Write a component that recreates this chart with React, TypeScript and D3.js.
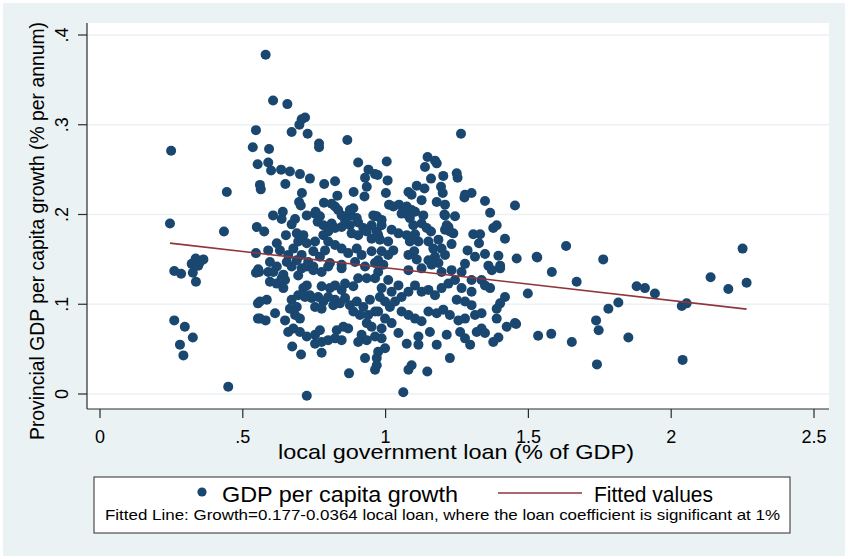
import * as React from 'react';
import * as d3 from 'd3';

type Pt = [number, number];

const xTicks = [0, 0.5, 1, 1.5, 2, 2.5];
const xTickLabels = ['0', '.5', '1', '1.5', '2', '2.5'];
const yTicks = [0, 0.1, 0.2, 0.3, 0.4];
const yTickLabels = ['0', '.1', '.2', '.3', '.4'];

// fitted line from the note under the legend
const fitIntercept = 0.177;
const fitSlope = -0.0364;

const xTitle = 'local government loan (% of GDP)';
const yTitle = 'Provincial GDP per capita growth (% per annum)';
const seriesLabel = 'GDP per capita growth';
const fitLabel = 'Fitted values';
const note = 'Fitted Line: Growth=0.177-0.0364 local loan, where the loan coefficient is significant at 1%';

// loan (% of GDP), growth
const leftPoints: Pt[] = [
  [0.245, 0.190], [0.249, 0.271], [0.260, 0.137], [0.284, 0.134], [0.325, 0.135], [0.336, 0.125],
  [0.335, 0.151], [0.362, 0.150], [0.321, 0.145], [0.344, 0.143], [0.350, 0.147], [0.260, 0.082],
  [0.297, 0.075], [0.325, 0.063], [0.280, 0.055], [0.292, 0.043], [0.449, 0.008], [0.444, 0.225],
  [0.434, 0.181],
];

const upperPoints: Pt[] = [
  [0.546, 0.294], [0.535, 0.275], [0.592, 0.273], [0.580, 0.378], [0.606, 0.327], [0.656, 0.323],
  [0.706, 0.306], [0.718, 0.308], [0.698, 0.300], [0.671, 0.292], [0.727, 0.290], [0.767, 0.279],
  [0.767, 0.275], [0.866, 0.283], [0.552, 0.256], [0.589, 0.258], [0.599, 0.249], [0.634, 0.250],
  [0.665, 0.248], [0.700, 0.245], [0.735, 0.240], [0.649, 0.234], [0.560, 0.233], [0.563, 0.228],
  [0.785, 0.234], [0.823, 0.237], [0.707, 0.224], [0.697, 0.214], [0.703, 0.210], [0.831, 0.221],
  [0.784, 0.213], [0.811, 0.212], [0.606, 0.199], [0.640, 0.203], [0.636, 0.195], [0.683, 0.195],
  [0.724, 0.199], [0.755, 0.203], [0.770, 0.198], [0.549, 0.186], [0.864, 0.198], [0.846, 0.186],
  [0.546, 0.157], [0.546, 0.135], [0.553, 0.101], [0.553, 0.084],
  [0.904, 0.258], [0.940, 0.250], [0.963, 0.245], [0.928, 0.241], [0.934, 0.231], [0.926, 0.220],
  [0.888, 0.225],
  [1.264, 0.290], [1.004, 0.259], [1.147, 0.264], [1.173, 0.260], [1.138, 0.253], [1.179, 0.257],
  [0.972, 0.244], [1.007, 0.238], [1.159, 0.240], [1.202, 0.243], [1.249, 0.246], [1.252, 0.241],
  [1.001, 0.224], [1.080, 0.225], [1.109, 0.232], [1.136, 0.229], [1.091, 0.222], [1.194, 0.231],
  [1.200, 0.224], [1.278, 0.222], [1.301, 0.224], [1.276, 0.219], [1.348, 0.215], [1.453, 0.210],
  [1.366, 0.202],
];

const midPoints: Pt[] = [
  [0.823, 0.209], [0.834, 0.205], [0.846, 0.199], [0.887, 0.207], [0.879, 0.199], [0.899, 0.196],
  [0.957, 0.199], [0.671, 0.189], [0.753, 0.201], [0.762, 0.192], [0.782, 0.188], [0.811, 0.190],
  [0.799, 0.181], [0.823, 0.185], [0.858, 0.194], [0.875, 0.188], [0.904, 0.191], [0.922, 0.185],
  [0.951, 0.188], [0.969, 0.181], [0.575, 0.181], [0.651, 0.177], [0.689, 0.179], [0.712, 0.177],
  [0.694, 0.170], [0.724, 0.168], [0.753, 0.170], [0.782, 0.177], [0.799, 0.170], [0.823, 0.166],
  [0.881, 0.179], [0.904, 0.177], [0.934, 0.181], [0.951, 0.173], [0.974, 0.177], [0.619, 0.168],
  [0.630, 0.160], [0.589, 0.160], [0.677, 0.162], [0.659, 0.155], [0.706, 0.155], [0.689, 0.149],
  [0.747, 0.159], [0.770, 0.153], [0.788, 0.160], [0.846, 0.162], [0.869, 0.157], [0.899, 0.162],
  [0.916, 0.155], [0.951, 0.159], [0.595, 0.147], [0.554, 0.139], [0.619, 0.142], [0.654, 0.147],
  [0.729, 0.147], [0.747, 0.142], [0.706, 0.140], [0.805, 0.146], [0.846, 0.144], [0.893, 0.147],
  [0.928, 0.142], [0.963, 0.146],
  [1.012, 0.211], [1.047, 0.211], [1.074, 0.209], [1.091, 0.205], [1.126, 0.216], [1.179, 0.214],
  [1.208, 0.211], [0.969, 0.198], [1.056, 0.201], [1.080, 0.199], [1.103, 0.203], [1.132, 0.199],
  [1.206, 0.200], [1.243, 0.198], [0.986, 0.188], [1.021, 0.183], [1.045, 0.179], [1.085, 0.196],
  [1.097, 0.188], [1.126, 0.190], [1.144, 0.185], [1.159, 0.181], [1.214, 0.188], [1.225, 0.181],
  [1.208, 0.183], [1.237, 0.179], [1.377, 0.185], [1.389, 0.188], [1.418, 0.173], [1.307, 0.178],
  [1.331, 0.178], [1.327, 0.168], [0.980, 0.172], [1.009, 0.170], [1.027, 0.160], [0.986, 0.159],
  [1.074, 0.177], [1.103, 0.178], [1.115, 0.170], [1.085, 0.170], [1.150, 0.170], [1.185, 0.172],
  [1.196, 0.162], [1.167, 0.162], [1.231, 0.167], [1.100, 0.159], [1.109, 0.150], [1.080, 0.155],
  [1.150, 0.149], [1.173, 0.153], [1.185, 0.146], [1.208, 0.155], [1.287, 0.160], [1.313, 0.153],
  [1.348, 0.156], [1.395, 0.154], [1.459, 0.151], [1.278, 0.145], [1.360, 0.143], [1.401, 0.143],
  [0.974, 0.149], [1.009, 0.155], [0.992, 0.144], [0.875, 0.205], [0.963, 0.198], [0.986, 0.194],
  [1.027, 0.209], [1.068, 0.205], [1.208, 0.199], [1.220, 0.186], [1.529, 0.153],
];

const lowerPoints: Pt[] = [
  [0.557, 0.136], [0.589, 0.136], [0.595, 0.125], [0.607, 0.136], [0.642, 0.133], [0.648, 0.127],
  [0.642, 0.118], [0.671, 0.142], [0.694, 0.132], [0.724, 0.142], [0.747, 0.138], [0.776, 0.136],
  [0.799, 0.142], [0.846, 0.140], [0.712, 0.118], [0.724, 0.121], [0.735, 0.110], [0.718, 0.108],
  [0.694, 0.110], [0.776, 0.120], [0.805, 0.118], [0.823, 0.121], [0.846, 0.116], [0.858, 0.123],
  [0.887, 0.120], [0.904, 0.129], [0.934, 0.129], [0.963, 0.129], [0.560, 0.103], [0.584, 0.105],
  [0.671, 0.105], [0.689, 0.097], [0.665, 0.095], [0.683, 0.088], [0.700, 0.084], [0.741, 0.107],
  [0.764, 0.108], [0.782, 0.103], [0.753, 0.097], [0.776, 0.095], [0.799, 0.108], [0.823, 0.105],
  [0.817, 0.099], [0.840, 0.101], [0.858, 0.107], [0.875, 0.099], [0.899, 0.103], [0.922, 0.097],
  [0.945, 0.105], [0.963, 0.092], [0.887, 0.092], [0.910, 0.088], [0.939, 0.088], [0.934, 0.079],
  [0.951, 0.075], [0.613, 0.090], [0.560, 0.084], [0.580, 0.082], [0.648, 0.082], [0.659, 0.069],
  [0.677, 0.073], [0.700, 0.069], [0.724, 0.064], [0.753, 0.066], [0.770, 0.071], [0.753, 0.056],
  [0.776, 0.058], [0.799, 0.060], [0.823, 0.062], [0.846, 0.060], [0.829, 0.071], [0.852, 0.075],
  [0.869, 0.073], [0.916, 0.066], [0.904, 0.058], [0.934, 0.060], [0.963, 0.064], [0.673, 0.053],
  [0.704, 0.044], [0.776, 0.046], [0.928, 0.040], [0.963, 0.027], [0.969, 0.040], [0.872, 0.023],
  [0.724, -0.002], [0.619, 0.123], [0.636, 0.129],
  [1.080, 0.138], [1.126, 0.140], [1.161, 0.144], [1.196, 0.136], [1.231, 0.138], [1.266, 0.136],
  [1.301, 0.127], [1.336, 0.127], [1.372, 0.138], [1.401, 0.140], [1.366, 0.118], [1.348, 0.121],
  [0.974, 0.136], [1.009, 0.127], [0.986, 0.118], [1.021, 0.114], [1.045, 0.121], [1.056, 0.108],
  [1.080, 0.114], [1.103, 0.121], [1.126, 0.114], [1.150, 0.116], [1.173, 0.110], [1.196, 0.118],
  [1.220, 0.123], [1.243, 0.127], [1.266, 0.118], [1.301, 0.114], [0.980, 0.108], [0.998, 0.103],
  [1.015, 0.097], [1.033, 0.103], [1.249, 0.105], [1.278, 0.103], [1.301, 0.099], [1.418, 0.108],
  [1.401, 0.101], [1.389, 0.095], [0.974, 0.092], [0.998, 0.084], [1.021, 0.079], [0.986, 0.073],
  [1.056, 0.092], [1.080, 0.088], [1.103, 0.084], [1.126, 0.081], [1.150, 0.092], [1.179, 0.090],
  [1.202, 0.094], [1.225, 0.088], [1.255, 0.082], [1.278, 0.084], [1.313, 0.088], [1.336, 0.090],
  [1.389, 0.084], [1.453, 0.079], [1.424, 0.075], [0.986, 0.062], [1.045, 0.068], [1.074, 0.056],
  [1.115, 0.064], [1.115, 0.055], [1.155, 0.069], [1.179, 0.055], [1.214, 0.066], [1.261, 0.069],
  [1.278, 0.062], [1.296, 0.055], [1.336, 0.073], [1.348, 0.068], [1.319, 0.069], [1.395, 0.063],
  [1.377, 0.058], [0.974, 0.047], [0.998, 0.051], [0.969, 0.032], [1.225, 0.040], [1.091, 0.032],
  [1.080, 0.027], [1.146, 0.025], [1.062, 0.002],
];

const rightPoints: Pt[] = [
  [1.632, 0.165], [1.582, 0.136], [1.669, 0.125], [1.498, 0.112], [1.762, 0.150], [1.879, 0.120],
  [1.908, 0.118], [1.943, 0.112], [1.815, 0.102], [1.780, 0.095], [2.037, 0.098], [2.054, 0.101],
  [2.138, 0.130], [2.200, 0.117], [2.250, 0.162], [2.264, 0.124], [1.457, 0.078], [1.534, 0.065],
  [1.580, 0.067], [1.652, 0.058], [1.737, 0.082], [1.746, 0.071], [1.850, 0.063], [1.740, 0.033],
  [2.040, 0.038], [1.531, 0.152],
];

const points: Pt[] = [...leftPoints, ...upperPoints, ...midPoints, ...lowerPoints, ...rightPoints];

const W = 848;
const H = 559;
const plot = { left: 87, right: 829, top: 23, bottom: 409 };
const navy = '#1a476f';
const maroon = '#90353b';
const bgBlue = '#eaf2f3';
const axisCol = '#2b2b2b';
const font = '"Liberation Sans", Arial, sans-serif';

export default function App() {
  const x = d3.scaleLinear().domain([0, 2.5]).range([100, 814]);
  const y = d3.scaleLinear().domain([0, 0.4]).range([394, 35]);

  const [xMin, xMax] = d3.extent(points, (d) => d[0]) as [number, number];
  const fitData: Pt[] = [xMin, xMax].map((v) => [v, fitIntercept + fitSlope * v]);
  const fitLine = d3.line<Pt>().x((d) => x(d[0])).y((d) => y(d[1]));

  return (
    <svg width={W} height={H} style={{ position: 'absolute', left: 0, top: 0 }} fontFamily={font}>
      <rect x={0} y={0} width={W} height={H} fill="#fff" />
      <rect x={3} y={3} width={842} height={553} fill={bgBlue} />
      <rect x={plot.left} y={plot.top} width={plot.right - plot.left} height={plot.bottom - plot.top} fill="#fff" />

      {/* gridlines */}
      {yTicks.map((t) => (
        <line key={'g' + t} x1={plot.left} x2={plot.right} y1={y(t)} y2={y(t)} stroke={bgBlue} strokeWidth={1.6} />
      ))}

      {/* points */}
      {points.map((d, i) => (
        <circle key={i} cx={x(d[0])} cy={y(d[1])} r={5} fill={navy} />
      ))}

      <path d={fitLine(fitData) ?? ''} fill="none" stroke={maroon} strokeWidth={1.6} />

      {/* y axis */}
      <line x1={plot.left} x2={plot.left} y1={plot.top} y2={plot.bottom} stroke={axisCol} strokeWidth={1.2} />
      {yTicks.map((t, i) => (
        <g key={'y' + t}>
          <line x1={78} x2={plot.left} y1={y(t)} y2={y(t)} stroke={axisCol} strokeWidth={1.2} />
          <text transform={`translate(68,${y(t)}) rotate(-90)`} textAnchor="middle" fontSize={18} fill="#000">
            {yTickLabels[i]}
          </text>
        </g>
      ))}
      <text transform="translate(44,231) rotate(-90)" textAnchor="middle" fontSize={20} fill="#000"
        textLength={418} lengthAdjust="spacingAndGlyphs">
        {yTitle}
      </text>

      {/* x axis */}
      <line x1={plot.left} x2={plot.right} y1={plot.bottom} y2={plot.bottom} stroke={axisCol} strokeWidth={1.2} />
      {xTicks.map((t, i) => (
        <g key={'x' + t}>
          <line x1={x(t)} x2={x(t)} y1={plot.bottom} y2={418} stroke={axisCol} strokeWidth={1.2} />
          <text x={x(t)} y={443} textAnchor="middle" fontSize={18} fill="#000">
            {xTickLabels[i]}
          </text>
        </g>
      ))}
      <text x={456} y={459} textAnchor="middle" fontSize={21} fill="#000"
        textLength={356} lengthAdjust="spacingAndGlyphs">
        {xTitle}
      </text>

      {/* legend */}
      <rect x={94} y={477} width={696} height={56} fill="#fff" stroke={axisCol} strokeWidth={1} />
      <circle cx={202} cy={492} r={4.6} fill={navy} />
      <text x={222} y={502} fontSize={22} fill="#000" textLength={236} lengthAdjust="spacingAndGlyphs">
        {seriesLabel}
      </text>
      <line x1={498} x2={582} y1={493} y2={493} stroke={maroon} strokeWidth={1.6} />
      <text x={594} y={502} fontSize={22} fill="#000" textLength={119} lengthAdjust="spacingAndGlyphs">
        {fitLabel}
      </text>
      <text x={105} y={520} fontSize={15} fill="#000" textLength={675} lengthAdjust="spacingAndGlyphs">
        {note}
      </text>
    </svg>
  );
}
